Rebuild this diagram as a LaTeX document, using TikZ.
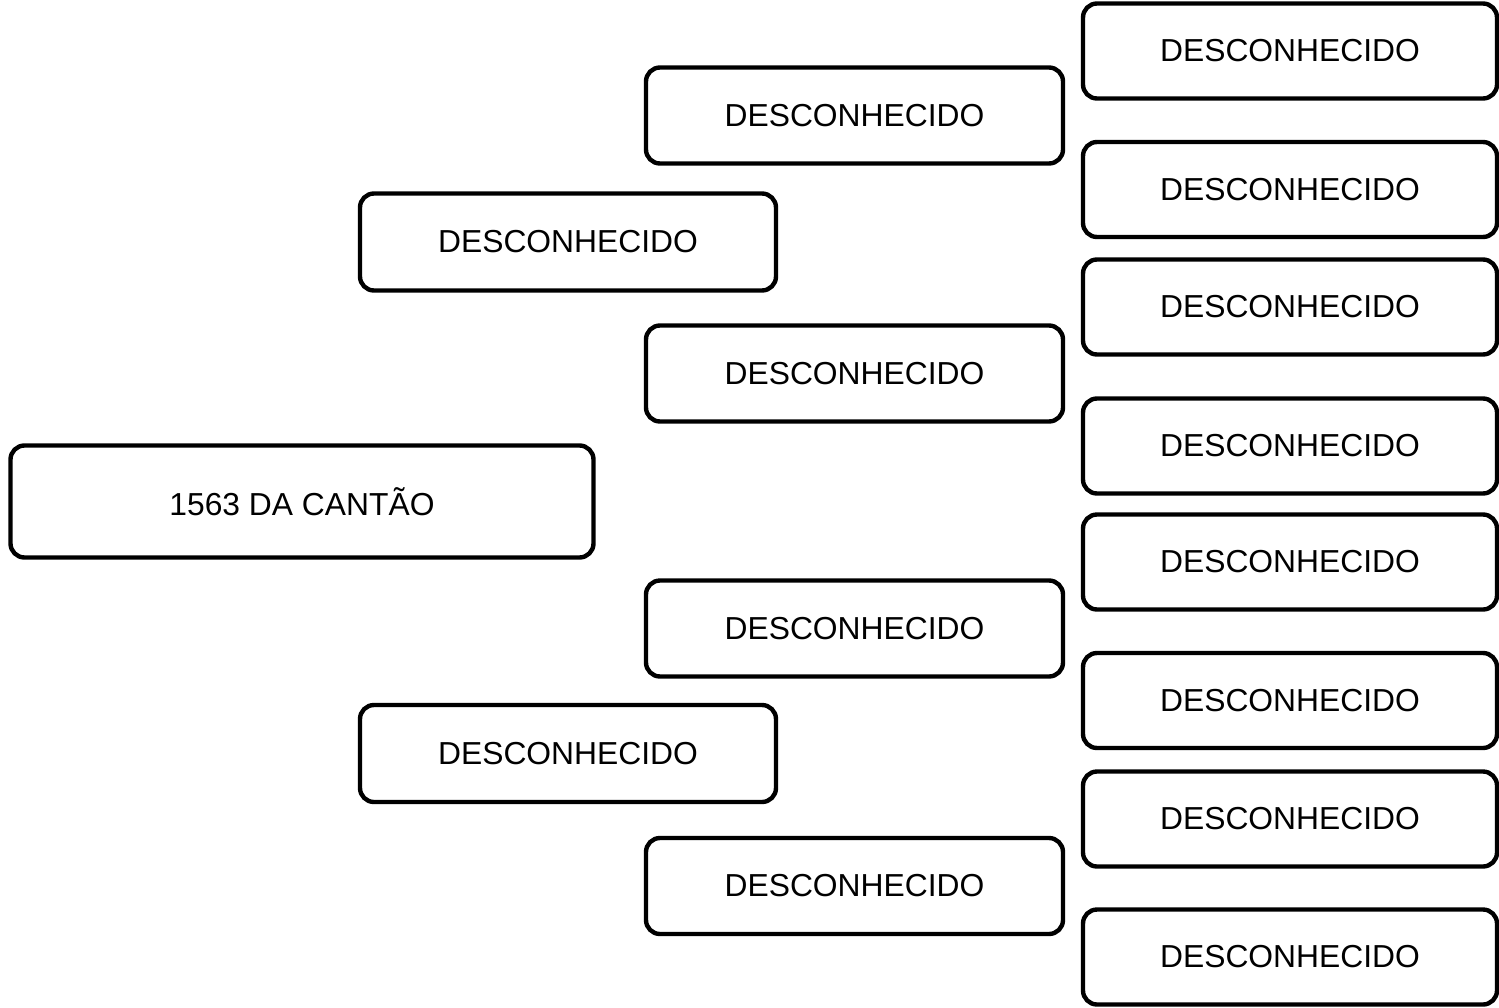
\documentclass[tikz,border=0pt]{standalone}
\usepackage{fontspec}
\setmainfont{Liberation Sans}

\begin{document}
\begin{tikzpicture}[x=0.5pt, y=-0.5pt,
    person/.style={draw, line width=2.2pt, rounded corners=7pt, fill=white,
      inner sep=0pt, font=\fontsize{15.9pt}{19pt}\selectfont},
    rootbox/.style={person, minimum width=291.5pt, minimum height=56pt},
    parentbox/.style={person, minimum width=208pt, minimum height=48.5pt},
    grandbox/.style={person, minimum width=208.5pt, minimum height=48pt},
    greatbox/.style={person, minimum width=207pt, minimum height=47.5pt}]
      \def\colp{568}
      \def\colg{854.5}
      \def\colgg{1290}

      \useasboundingbox (0, 0) rectangle (1499, 1007) ;

      \node[rootbox] (root) at (302, 501.5) {1563 DA CANTÃO} ;

      \node[parentbox] (father) at (\colp, 242) {DESCONHECIDO} ;
      \node[parentbox] (mother) at (\colp, 753.5) {DESCONHECIDO} ;

      \node[grandbox] (ff) at (\colg, 115.5) {DESCONHECIDO} ;
      \node[grandbox] (fm) at (\colg, 373.5) {DESCONHECIDO} ;
      \node[grandbox] (mf) at (\colg, 628.5) {DESCONHECIDO} ;
      \node[grandbox] (mm) at (\colg, 886) {DESCONHECIDO} ;

      \node[greatbox] (fff) at (\colgg, 51) {DESCONHECIDO} ;
      \node[greatbox] (ffm) at (\colgg, 189.5) {DESCONHECIDO} ;
      \node[greatbox] (fmf) at (\colgg, 307) {DESCONHECIDO} ;
      \node[greatbox] (fmm) at (\colgg, 446) {DESCONHECIDO} ;
      \node[greatbox] (mff) at (\colgg, 562) {DESCONHECIDO} ;
      \node[greatbox] (mfm) at (\colgg, 700.5) {DESCONHECIDO} ;
      \node[greatbox] (mmf) at (\colgg, 819) {DESCONHECIDO} ;
      \node[greatbox] (mmm) at (\colgg, 957) {DESCONHECIDO} ;
    \end{tikzpicture}
\end{document}
